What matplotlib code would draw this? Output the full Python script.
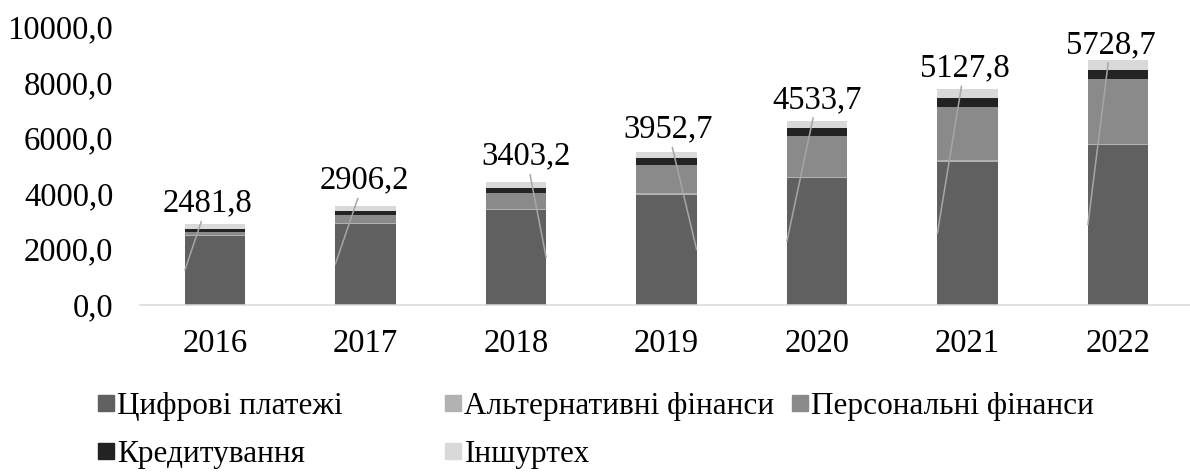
import matplotlib
matplotlib.use('Agg')
import matplotlib.pyplot as plt
from matplotlib.lines import Line2D
from matplotlib.ticker import FuncFormatter
import numpy as np

plt.rcParams['font.family'] = ['Liberation Serif', 'DejaVu Serif']

# роки
years = ['2016', '2017', '2018', '2019', '2020', '2021', '2022']

# сегменти (значення оцінені з рисунка, крім цифрових платежів)
digital_payments = [2481.8, 2906.2, 3403.2, 3952.7, 4533.7, 5127.8, 5728.7]
alt_finance = [30, 35, 40, 45, 50, 55, 60]
personal_finance = [114, 275, 560, 1015, 1460, 1925, 2315]
lending = [97, 144, 195, 240, 290, 325, 325]
insurtech = [155, 180, 200, 230, 275, 313, 360]

series_names = ['Цифрові платежі', 'Альтернативні фінанси', 'Персональні фінанси',
                'Кредитування', 'Іншуртех']
colors = ['#606060', '#b2b2b2', '#8a8a8a', '#232323', '#d9d9d9']

# зсув підписів відносно вершини стовпця та бік виноски
label_dx = [-0.05, -0.01, 0.07, 0.01, 0.0, -0.02, -0.05]
label_dy = [760, 930, 930, 820, 760, 760, 560]
leader_side = [-1, -1, 1, 1, -1, -1, -1]

FS = 23.5
LEG_FS = 22.5
BAR_W = 0.4


def fmt(v):
    return ('%.1f' % v).replace('.', ',')


fig = plt.figure(figsize=(11.9, 4.72), dpi=100)
ax = fig.add_axes([139.75 / 1190, 167.5 / 472, 1053.5 / 1190, 278 / 472])

x = np.arange(len(years))
series = [digital_payments, alt_finance, personal_finance, lending, insurtech]
bottom = np.zeros(len(years))
for vals, name, c in zip(series, series_names, colors):
    ax.bar(x, vals, BAR_W, bottom=bottom, color=c, label=name, linewidth=0)
    bottom = bottom + np.array(vals)
totals = bottom

# підписи цифрових платежів з виносками
for i in range(len(years)):
    tx = x[i] + label_dx[i]
    ty = totals[i] + label_dy[i]
    target = (x[i] + leader_side[i] * BAR_W / 2, digital_payments[i] / 2)
    ax.annotate(fmt(digital_payments[i]), xy=target, xytext=(tx, ty),
                ha='center', va='center', fontsize=FS, color='black',
                arrowprops=dict(arrowstyle='-', color='#a6a6a6', lw=1.1,
                                shrinkA=0, shrinkB=0))

ax.set_xlim(-0.5, len(years) - 0.5)
ax.set_ylim(0, 10000)
ax.set_yticks(np.arange(0, 10001, 2000))
ax.yaxis.set_major_formatter(FuncFormatter(lambda v, p: fmt(v)))
ax.set_xticks(x)
ax.set_xticklabels(years)
ax.tick_params(axis='y', length=0, pad=19, labelsize=FS)
ax.tick_params(axis='x', length=0, pad=17, labelsize=FS)

for s in ['top', 'right', 'left']:
    ax.spines[s].set_visible(False)
ax.spines['bottom'].set_color('#d9d9d9')
ax.spines['bottom'].set_linewidth(1.1)

# легенда: три колонки однакової ширини, як в Excel
def make_handle(c):
    return Line2D([], [], marker='s', linestyle='', color=c, markersize=11)

columns = [[0, 3], [1, 4], [2]]
col_x = [98, 445, 792]
for idx, cx in zip(columns, col_x):
    handles = [make_handle(colors[k]) for k in idx]
    labels = [series_names[k] for k in idx]
    fig.legend(handles, labels, loc='upper left', bbox_to_anchor=(cx / 1190, 1 - 392 / 472),
               frameon=False, fontsize=LEG_FS, borderpad=0, borderaxespad=0,
               handlelength=0.5, handletextpad=0.12, labelspacing=0.62)

plt.savefig('out.png', dpi=100)
